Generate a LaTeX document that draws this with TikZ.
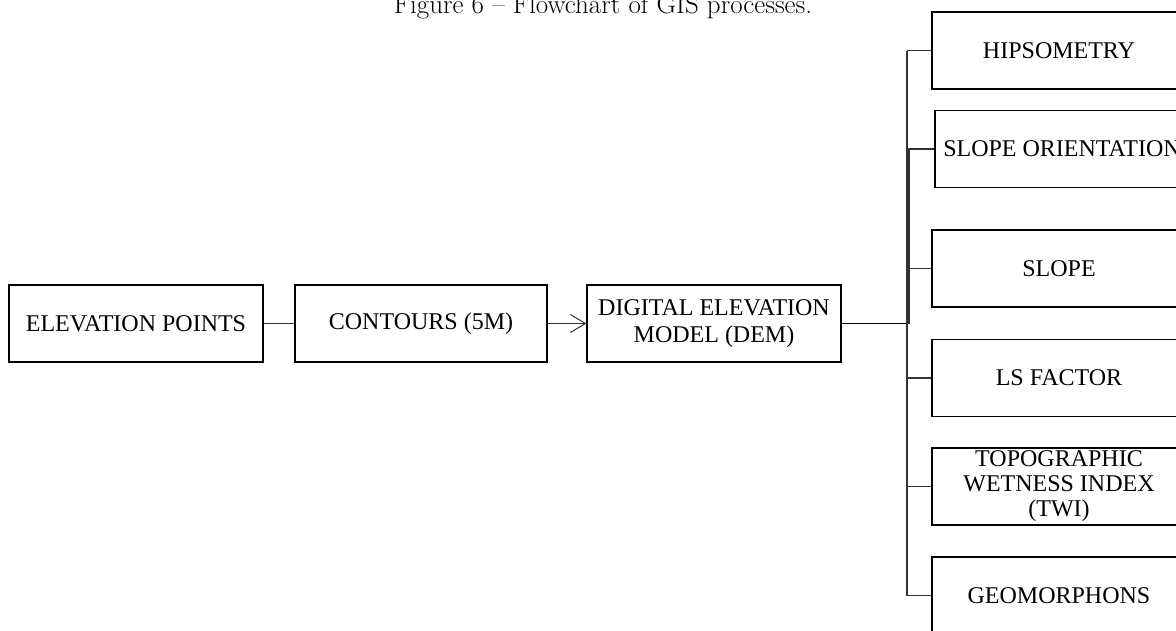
\documentclass[tikz,border=0pt]{standalone}
\usepackage{fontspec}
\newfontfamily\boxfont{Liberation Serif}
\usetikzlibrary{arrows.meta,positioning}

\begin{document}
\begin{tikzpicture}[x=1pt,y=-1pt,
    box/.style={draw,line width=1.2pt,inner sep=0pt,align=center,minimum width=254pt,minimum height=77pt,
      font=\boxfont\fontsize{24}{27}\selectfont},
    link/.style={line width=1.2pt,color=black!80}]
  \useasboundingbox (0,0) rectangle (1176,630);
  \clip (0,0) rectangle (1176,630);
  \node[anchor=base,font=\fontsize{27}{28}\selectfont] (title) at (603,13) {Figure 6 -- Flowchart of GIS processes.};
  % main chain
  \node[box] (elev) at (136,323.5) {ELEVATION POINTS};
  \node[box,minimum width=252pt] (cont) at (421,323.5) {CONTOURS (5M)};
  \node[box] (dem) at (714,323.5) {DIGITAL ELEVATION\\MODEL (DEM)};
  \draw[link] (elev) -- (cont);
  \draw[link,-{Straight Barb[length=15pt,width=18pt,line width=1pt]}] (cont) -- (dem);
  % bus
  \coordinate (bus) at (907,323.5);
  \coordinate (bustop) at (907,50.5);
  \coordinate (busbot) at (907,595.5);
  \draw[link,color=black] (dem) -- (bus);
  \draw[link] (bustop) -- (busbot);
  % products
  \foreach \x/\y/\n/\t in {1059/50.5/hip/HIPSOMETRY,
      1062/149/orient/SLOPE ORIENTATION,
      1059/268.5/slope/SLOPE,
      1059/378/ls/LS FACTOR,
      1059/486.5/twi/{TOPOGRAPHIC\\WETNESS INDEX\\(TWI)},
      1059/595.5/geo/GEOMORPHONS} {
    \node[box,font=\boxfont\fontsize{24}{25}\selectfont] (\n) at (\x,\y) {\t};
    \draw[link] (bus |- \n.west) -- (\n.west);
  }
  \draw[link] ([xshift=2pt]bus) -- ([xshift=2pt]bus |- orient.west) -- (orient.west);
\end{tikzpicture}
\end{document}
